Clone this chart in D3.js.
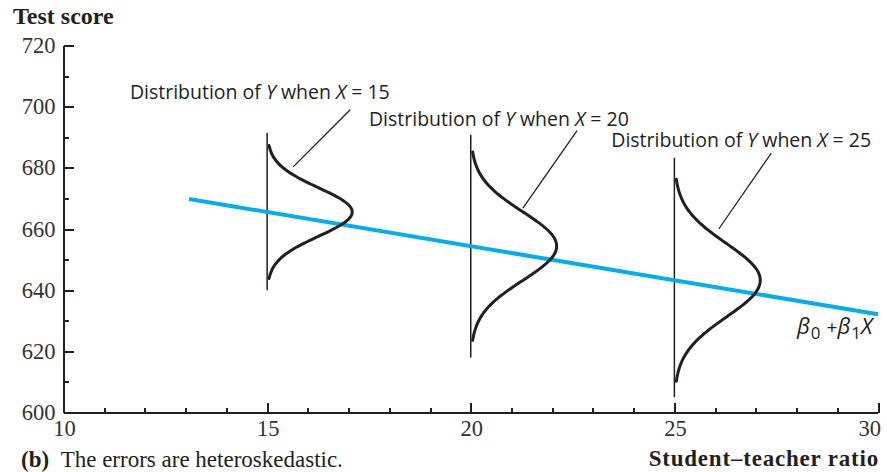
<!DOCTYPE html>
<html>
<head>
<meta charset="utf-8">
<script src="https://cdn.jsdelivr.net/npm/d3@7/dist/d3.min.js"></script>
<style>
  html, body { margin: 0; padding: 0; background: #fff; }
  svg { display: block; }
</style>
</head>
<body>
<svg id="chart" width="887" height="472"></svg>
<script>
// Axis ticks
const xMajorTicks = [10, 15, 20, 25, 30];
const xMinorTicks = [11, 12, 13, 14, 16, 17, 18, 19, 21, 22, 23, 24, 26, 27, 28, 29];
const yMajorTicks = [600, 620, 640, 660, 680, 700, 720];
const yMinorTicks = [610, 630, 650, 670, 690, 710];

// Population regression line  Y = b0 + b1 X
const lineIntercept = 699.0;
const lineSlope = -2.23;
const lineXRange = [13.08, 30];

// Conditional distributions of Y (heteroskedastic: spread grows with X)
const distX = [15, 20, 25];
const distSD = [7.9, 11.2, 12.0];
const distPeakWidth = [2.09, 2.11, 2.11];     // horizontal height of each density, in X units
const distTailZ = 2.75;                        // curves drawn out to +/- this many SDs
const stemLow = [640.0, 618.0, 605.0];         // vertical baseline of each density
const stemHigh = [691.5, 690.8, 683.3];

// Callout labels and their leader lines (data units)
const labelTexts = ["15", "20", "25"];
const labelX = [11.63, 17.5, 23.45];
const labelY = [702.6, 693.8, 686.7];
const leaderFrom = [[15.64, 680.3], [21.28, 666.8], [26.09, 660.0]];
const leaderTo = [[17.04, 699.0], [22.61, 692.2], [27.38, 684.8]];

const svg = d3.select("#chart");
const x = d3.scaleLinear().domain([10, 30]).range([63.5, 878]);
const y = d3.scaleLinear().domain([600, 720]).range([412.5, 45.5]);

const axisColor = "#231f20";
const tickTextColor = "#333";
const serif = "'Liberation Serif', 'Times New Roman', serif";
const sans = "'Open Sans', 'Noto Sans', sans-serif";

// Y axis: ticks point inward
const yAxis = d3.axisRight(y).tickValues(yMajorTicks).tickSize(10).tickFormat("");
const yAxisMinor = d3.axisRight(y).tickValues(yMinorTicks).tickSize(5).tickFormat("");
const gy = svg.append("g").attr("transform", `translate(${x(10)},0)`).call(yAxis);
svg.append("g").attr("transform", `translate(${x(10)},0)`).call(yAxisMinor).select(".domain").remove();
gy.select(".domain").attr("d", `M0,${y(720)}V${y(600)}`);

// X axis: ticks point inward
const xAxis = d3.axisTop(x).tickValues(xMajorTicks).tickSize(10).tickFormat("");
const xAxisMinor = d3.axisTop(x).tickValues(xMinorTicks).tickSize(5).tickFormat("");
const gx = svg.append("g").attr("transform", `translate(0,${y(600)})`).call(xAxis);
svg.append("g").attr("transform", `translate(0,${y(600)})`).call(xAxisMinor).select(".domain").remove();
gx.select(".domain").attr("d", `M${x(10)},0H${x(30)}`);

svg.selectAll(".domain, .tick line")
  .attr("stroke", axisColor).attr("stroke-width", 2).attr("shape-rendering", "crispEdges");

// Tick labels
svg.append("g").selectAll("text").data(yMajorTicks).join("text")
  .attr("x", x(10) - 8).attr("y", d => y(d)).attr("dy", "0.34em")
  .attr("text-anchor", "end")
  .attr("font-family", serif).attr("font-size", 22.5).attr("fill", tickTextColor)
  .text(d => d);

svg.append("g").selectAll("text").data(xMajorTicks).join("text")
  .attr("x", d => d === 30 ? x(d) + 3 : x(d) + 1)
  .attr("y", y(600) + 23)
  .attr("text-anchor", d => d === 30 ? "end" : "middle")
  .attr("font-family", serif).attr("font-size", 22.5).attr("fill", tickTextColor)
  .text(d => d);

// Axis titles
svg.append("text").attr("x", 13).attr("y", 24)
  .attr("font-family", serif).attr("font-size", 24).attr("font-weight", "bold").attr("fill", "#231f20")
  .text("Test score");
svg.append("text").attr("x", 879).attr("y", 466).attr("text-anchor", "end")
  .attr("font-family", serif).attr("font-size", 23).attr("font-weight", "bold").attr("fill", "#231f20")
  .attr("letter-spacing", 0.8)
  .text("Student\u2013teacher ratio");

// Caption
const cap = svg.append("text").attr("x", 21).attr("y", 467)
  .attr("font-family", serif).attr("font-size", 23).attr("fill", "#231f20");
cap.append("tspan").attr("font-weight", "bold").text("(b)");
cap.append("tspan").text("\u2002The errors are heteroskedastic.");

// Vertical stems of the distributions
svg.append("g").selectAll("line").data(distX).join("line")
  .attr("x1", d => x(d)).attr("x2", d => x(d))
  .attr("y1", (d, i) => y(stemLow[i])).attr("y2", (d, i) => y(stemHigh[i]))
  .attr("stroke", "#231f20").attr("stroke-width", 1.5);

// Regression line
svg.append("line")
  .attr("x1", x(lineXRange[0])).attr("y1", y(lineIntercept + lineSlope * lineXRange[0]))
  .attr("x2", x(lineXRange[1])).attr("y2", y(lineIntercept + lineSlope * lineXRange[1]))
  .attr("stroke", "#00aeef").attr("stroke-width", 4);

// Normal density curves, laid sideways along each stem
const zSteps = d3.range(-distTailZ, distTailZ + 1e-9, 0.05);
const densityLine = d3.line().x(p => x(p[0])).y(p => y(p[1])).curve(d3.curveBasis);
svg.append("g").selectAll("path").data(distX).join("path")
  .attr("d", (d, i) => {
    const center = lineIntercept + lineSlope * d;
    return densityLine(zSteps.map(z => [d + distPeakWidth[i] * Math.exp(-z * z / 2), center + z * distSD[i]]));
  })
  .attr("fill", "none").attr("stroke", "#231f20").attr("stroke-width", 3).attr("stroke-linecap", "round");

// Leader lines
svg.append("g").selectAll("line").data(leaderFrom).join("line")
  .attr("x1", d => x(d[0])).attr("y1", d => y(d[1]))
  .attr("x2", (d, i) => x(leaderTo[i][0])).attr("y2", (d, i) => y(leaderTo[i][1]))
  .attr("stroke", "#231f20").attr("stroke-width", 1.3);

// Callout labels
const labels = svg.append("g").selectAll("text").data(labelTexts).join("text")
  .attr("x", (d, i) => x(labelX[i])).attr("y", (d, i) => y(labelY[i]))
  .attr("font-family", sans).attr("font-size", 19.5).attr("fill", "#231f20");
labels.append("tspan").text("Distribution of ");
labels.append("tspan").attr("font-style", "italic").text("Y");
labels.append("tspan").text(" when ");
labels.append("tspan").attr("font-style", "italic").text("X");
labels.append("tspan").text(d => " = " + d);

// Regression line label: beta_0 + beta_1 X
const beta = svg.append("text").attr("x", 797).attr("y", 334)
  .attr("font-family", sans).attr("font-size", 22).attr("fill", "#231f20");
beta.append("tspan").attr("font-style", "italic").text("\u03b2");
beta.append("tspan").attr("font-size", 17).attr("dy", 5).attr("dx", 1).text("0");
beta.append("tspan").attr("dy", -5).attr("dx", 6).attr("font-size", 19).text("+");
beta.append("tspan").attr("font-style", "italic").text("\u03b2");
beta.append("tspan").attr("font-size", 17).attr("dy", 5).attr("dx", 1).text("1");
beta.append("tspan").attr("font-style", "italic").attr("dy", -5).text("X");
</script>
</body>
</html>
